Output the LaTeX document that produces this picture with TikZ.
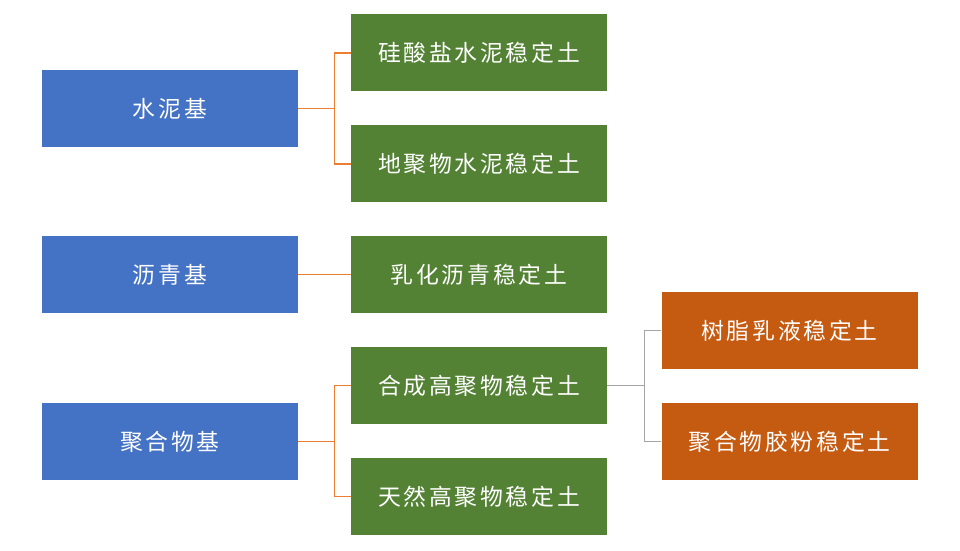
\documentclass[tikz,border=0pt]{standalone}
\usepackage{fontspec}
\newfontfamily\cjk[LetterSpace=12]{Noto Sans CJK SC}
\usetikzlibrary{positioning}

\definecolor{baseblue}{HTML}{4472C4}
\definecolor{typegreen}{HTML}{548235}
\definecolor{subbrown}{HTML}{C55A11}
\definecolor{linkorange}{HTML}{ED7D31}
\definecolor{linkgray}{HTML}{A5A5A5}

\begin{document}
\begin{tikzpicture}[
  box/.style={rectangle, minimum width=5.12cm, minimum height=1.54cm,
              text centered, text=white, font=\cjk\fontsize{13}{15}\selectfont},
  base/.style={box, fill=baseblue},
  kind/.style={box, fill=typegreen},
  sub/.style={box, fill=subbrown},
  link/.style={draw=linkorange, line width=0.8pt},
  glink/.style={draw=linkgray, line width=0.8pt}
]
\useasboundingbox (0,0) rectangle (19.2,11);

%% Left column: binder bases
\node[base] (cement) at (3.4,8.83) {水泥基};
\node[base] (asphalt) at (3.4,5.51) {沥青基};
\node[base] (polymer) at (3.4,2.17) {聚合物基};

%% Middle column: stabilized soil types
\node[kind] (silicate) at (9.58,9.94) {硅酸盐水泥稳定土};
\node[kind] (geopoly) at (9.58,7.72) {地聚物水泥稳定土};
\node[kind] (emulsion) at (9.58,5.51) {乳化沥青稳定土};
\node[kind] (synth) at (9.58,3.29) {合成高聚物稳定土};
\node[kind] (natural) at (9.58,1.07) {天然高聚物稳定土};

%% Right column: synthetic polymer subtypes
\node[sub] (resin) at (15.79,4.39) {树脂乳液稳定土};
\node[sub] (powder) at (15.79,2.17) {聚合物胶粉稳定土};

%% Junctions
\coordinate[right=0.72cm of cement] (cj);
\coordinate[right=0.72cm of polymer] (pj);
\coordinate[right=0.74cm of synth] (sj);

%% Connectors
\draw[link] (cement) -- (cj);
\draw[link] (cj) |- (silicate);
\draw[link] (cj) |- (geopoly);
\draw[link] (asphalt) -- (emulsion);
\draw[link] (polymer) -- (pj);
\draw[link] (pj) |- (synth);
\draw[link] (pj) |- (natural);
\draw[glink] (synth) -- (sj);
\draw[glink] (sj) |- (resin);
\draw[glink] (sj) |- (powder);

\end{tikzpicture}
\end{document}
